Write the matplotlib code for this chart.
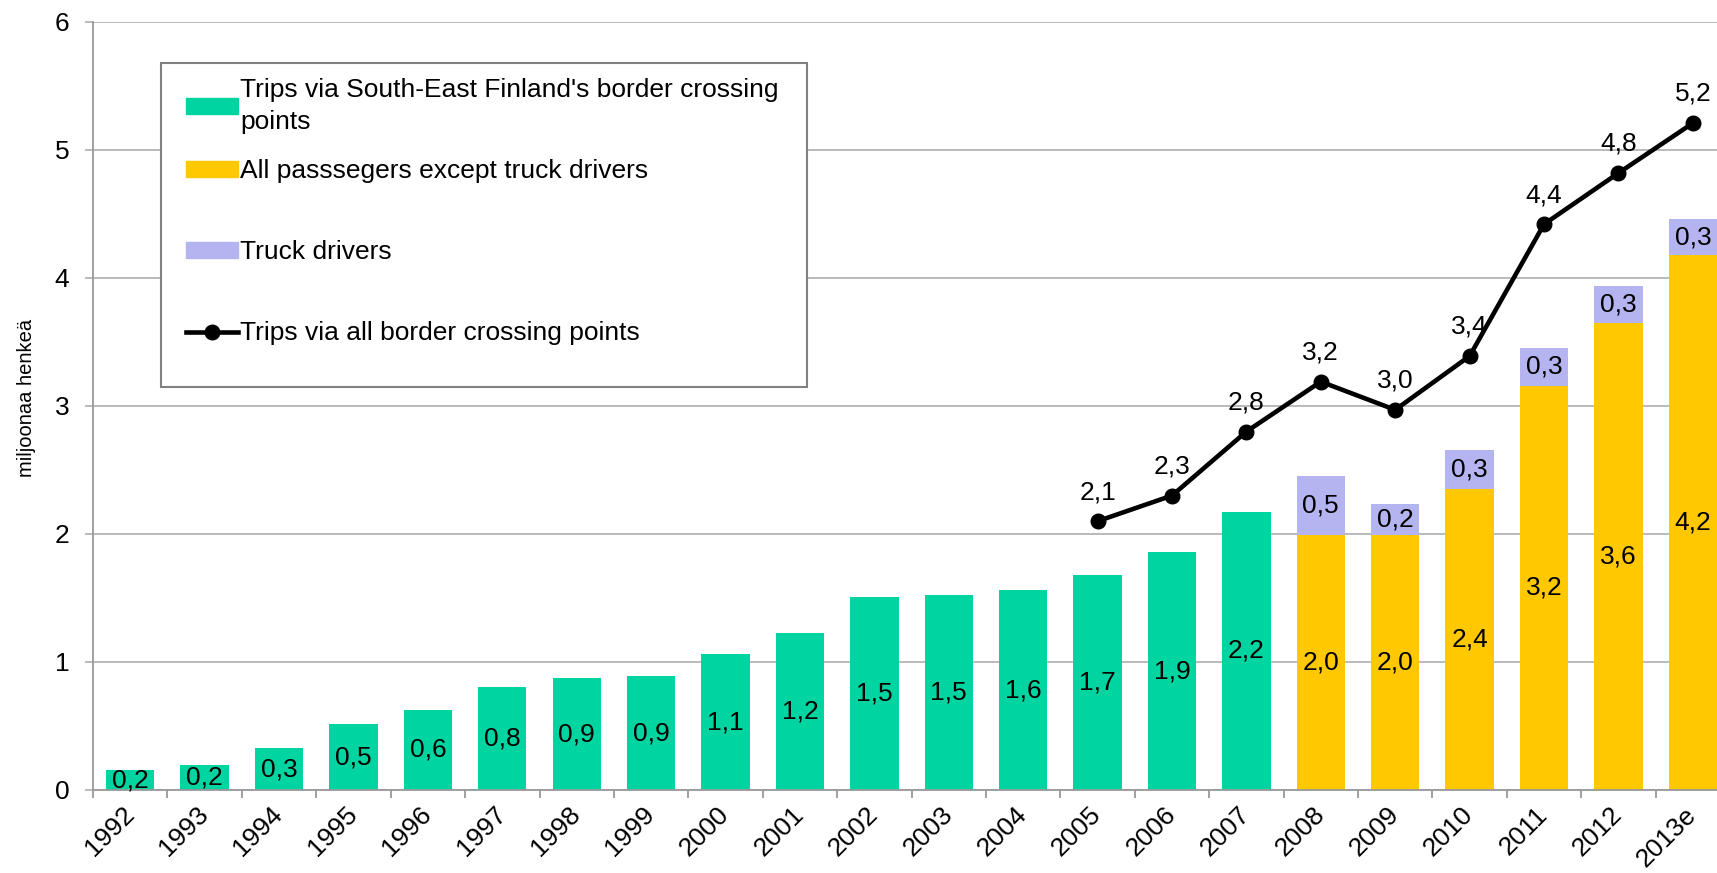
import matplotlib
matplotlib.use('Agg')
from matplotlib import pyplot as plt
from matplotlib.patches import Rectangle
from matplotlib.lines import Line2D

plt.rcParams['font.family'] = ['Liberation Sans', 'DejaVu Sans']

# Data
Years = ['1992','1993','1994','1995','1996','1997','1998','1999','2000','2001',
         '2002','2003','2004','2005','2006','2007','2008','2009','2010','2011',
         '2012','2013e']
SE_trips = [0.154,0.197,0.325,0.514,0.625,0.805,0.873,0.89,1.06,1.224,
            1.507,1.524,1.56,1.678,1.858,2.175]          # 1992-2007
Passengers = [1.995,1.995,2.354,3.16,3.647,4.178]       # 2008-2013e
Truck = [0.46,0.24,0.30,0.29,0.29,0.28]                 # 2008-2013e
All_trips = [2.1,2.3,2.8,3.19,2.97,3.39,4.42,4.82,5.21]  # 2005-2013e

Green = '#00D4A0'
Yellow = '#FFC800'
Purple = '#B4B4F0'

def Lab(v):
    return ('%.1f' % v).replace('.', ',')

fig = plt.figure(figsize=(17.17, 8.73), dpi=100)
ax = fig.add_axes([0.0542, 0.0951, 0.9534, 0.8797])

W = 0.65
FS = 19

x_se = list(range(len(SE_trips)))
x_new = [len(SE_trips)+i for i in range(len(Passengers))]
x_all = [Years.index('2005')+i for i in range(len(All_trips))]

ax.bar(x_se, SE_trips, W, color=Green, zorder=2)
ax.bar(x_new, Passengers, W, color=Yellow, zorder=2)
ax.bar(x_new, Truck, W, bottom=Passengers, color=Purple, zorder=2)
ax.plot(x_all, All_trips, '-o', color='black', lw=3.3, ms=10.5, zorder=4)

# data labels
for x, v in zip(x_se, SE_trips):
    ax.text(x, v/2, Lab(v), ha='center', va='center', fontsize=FS, zorder=5)
for x, p, t in zip(x_new, Passengers, Truck):
    ax.text(x, p/2, Lab(p), ha='center', va='center', fontsize=FS, zorder=5)
    ax.text(x, p+t/2, Lab(t), ha='center', va='center', fontsize=FS, zorder=5)
for x, v in zip(x_all, All_trips):
    ax.annotate(Lab(v), (x, v), xytext=(0, 21), textcoords='offset points',
                ha='center', va='center', fontsize=FS, zorder=5)

# axes
ax.set_xlim(-0.5, len(Years)-0.5)
ax.set_ylim(0, 6)
ax.set_yticks(range(7))
ax.set_yticklabels([str(i) for i in range(7)], fontsize=FS)
ax.yaxis.grid(True, color='#B4B4B4', lw=1.3, zorder=0)
ax.set_axisbelow(True)
ax.tick_params(axis='y', length=6, width=1.3, color='#B4B4B4', pad=11)

ax.set_xticks(range(len(Years)))
ax.set_xticklabels(Years, fontsize=FS, rotation=45, ha='right', va='center',
                   rotation_mode='anchor')
ax.set_xticks([i-0.5 for i in range(len(Years)+1)], minor=True)
ax.tick_params(axis='x', which='major', length=0, pad=15)
ax.tick_params(axis='x', which='minor', length=6, width=1.3, color='#999999')

for s in ['top', 'right']:
    ax.spines[s].set_visible(False)
for s in ['left', 'bottom']:
    ax.spines[s].set_color('#999999')
    ax.spines[s].set_linewidth(1.3)

ax.set_ylabel('miljoonaa henkeä', fontsize=14.5)
ax.yaxis.set_label_coords(-0.035, 0.51)

# legend frame
ax.add_patch(Rectangle((0.0415, 0.5247), 0.3945, 0.4219, transform=ax.transAxes,
                       facecolor='white', edgecolor='#808080', lw=1.5, zorder=6))
handles = [Rectangle((0, 0), 1, 1, color=Green),
           Rectangle((0, 0), 1, 1, color=Yellow),
           Rectangle((0, 0), 1, 1, color=Purple),
           Line2D([], [], color='black', lw=3.3, marker='o', ms=10.5)]
labels = ["Trips via South-East Finland's border crossing\npoints",
          'All passsegers except truck drivers',
          'Truck drivers',
          'Trips via all border crossing points']
opts = dict(loc='upper left', frameon=False, fontsize=FS, handlelength=1.95,
            handleheight=0.57, handletextpad=0.1, borderpad=0, borderaxespad=0)
leg1 = ax.legend(handles[:1], labels[:1], bbox_to_anchor=(0.0568, 0.927), **opts)
leg1.get_texts()[0].set_linespacing(1.4)
leg1.set_zorder(7)
ax.add_artist(leg1)
leg2 = ax.legend(handles[1:], labels[1:], bbox_to_anchor=(0.0568, 0.821),
                 labelspacing=2.16, **opts)
leg2.set_zorder(7)

fig.savefig('out.png', dpi=100)
